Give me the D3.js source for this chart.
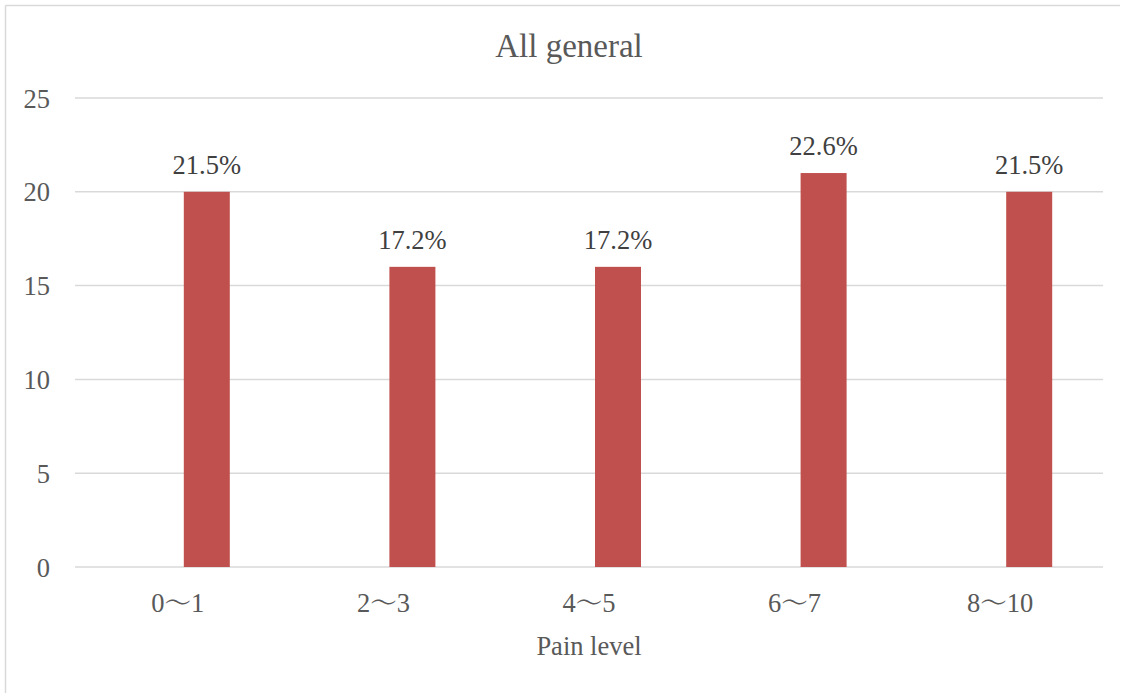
<!DOCTYPE html>
<html>
<head>
<meta charset="utf-8">
<script src="https://cdn.jsdelivr.net/npm/d3@7"></script>
<style>
  html, body { margin: 0; padding: 0; background: #fff; }
  svg { display: block; }
</style>
</head>
<body>
<svg id="chart" width="1129" height="693"></svg>
<script>
// Pain level groups and number of respondents in each
const categories = ["0〜1", "2〜3", "4〜5", "6〜7", "8〜10"];
const counts = [20, 16, 16, 21, 20];
const yTicks = [0, 5, 10, 15, 20, 25];
const chartTitle = "All general";
const xTitle = "Pain level";

const FONT = "'Liberation Serif', 'Noto Serif CJK JP', serif";
const total = d3.sum(counts);
const pct = d3.format(".1%");

const svg = d3.select("#chart");
const W = 1129, H = 693;
const plot = { left: 75, right: 1103, top: 98, bottom: 567 };

// outer frame (top and left edges visible)
svg.append("line").attr("x1", 5.5).attr("x2", 1120).attr("y1", 5.5).attr("y2", 5.5)
  .attr("stroke", "#d9d9d9").attr("stroke-width", 1.5);
svg.append("line").attr("x1", 5.5).attr("x2", 5.5).attr("y1", 5.5).attr("y2", H)
  .attr("stroke", "#d9d9d9").attr("stroke-width", 1.5);

const x = d3.scaleBand().domain(categories).range([plot.left, plot.right]);
const y = d3.scaleLinear().domain([0, 25]).range([plot.bottom, plot.top]);

// horizontal gridlines
svg.append("g").selectAll("line").data(yTicks).join("line")
  .attr("x1", plot.left).attr("x2", plot.right)
  .attr("y1", d => y(d)).attr("y2", d => y(d))
  .attr("stroke", "#d9d9d9").attr("stroke-width", 1.5);

// y axis labels
const yAxis = d3.axisLeft(y).tickValues(yTicks).tickSize(0).tickPadding(0);
svg.append("g").attr("transform", "translate(50,0)").call(yAxis)
  .call(g => g.select(".domain").remove())
  .call(g => g.selectAll("text")
    .style("font-family", FONT).style("font-size", "26.5px")
    .attr("fill", "#595959")
    .attr("dy", "0.34em"));

// x axis labels
const xAxis = d3.axisBottom(x).tickSize(0).tickPadding(0);
svg.append("g").attr("transform", `translate(0,${plot.bottom})`).call(xAxis)
  .call(g => g.select(".domain").remove())
  .call(g => g.selectAll("text")
    .style("font-family", FONT).style("font-size", "26.5px")
    .attr("fill", "#595959")
    .attr("dy", "0").attr("y", 45));

// bars sit just right of each category centre
const barOffset = 6, barWidth = 46;
svg.append("g").selectAll("rect").data(counts).join("rect")
  .attr("x", (d, i) => x(categories[i]) + x.bandwidth() / 2 + barOffset)
  .attr("width", barWidth)
  .attr("y", d => y(d))
  .attr("height", d => y(0) - y(d))
  .attr("fill", "#c0504d");

// share of respondents above each bar
svg.append("g").selectAll("text").data(counts).join("text")
  .attr("x", (d, i) => x(categories[i]) + x.bandwidth() / 2 + barOffset + barWidth / 2)
  .attr("y", d => y(d) - 18)
  .attr("text-anchor", "middle")
  .attr("fill", "#404040")
  .style("font-family", FONT).style("font-size", "26.5px")
  .text(d => pct(d / total));

// titles
svg.append("text").attr("x", 569).attr("y", 57).attr("text-anchor", "middle")
  .attr("fill", "#595959")
  .style("font-family", FONT).style("font-size", "33px")
  .text(chartTitle);
svg.append("text").attr("x", (plot.left + plot.right) / 2).attr("y", 655)
  .attr("text-anchor", "middle").attr("fill", "#595959")
  .style("font-family", FONT).style("font-size", "26.5px")
  .text(xTitle);
</script>
</body>
</html>
